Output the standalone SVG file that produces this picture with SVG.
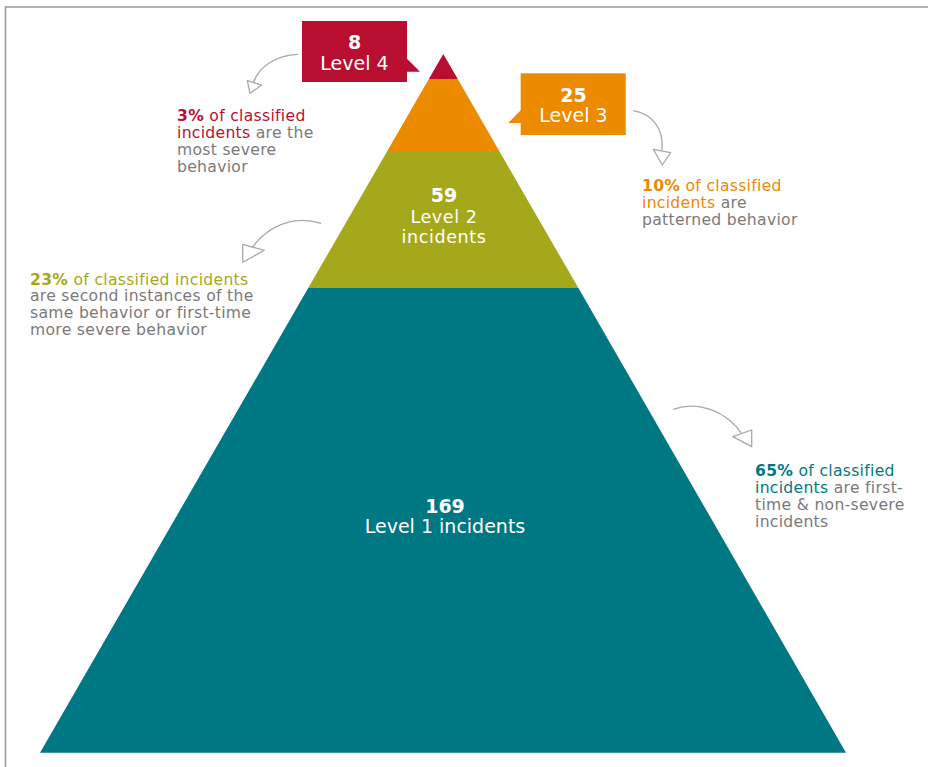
<svg xmlns="http://www.w3.org/2000/svg" width="928" height="767" viewBox="0 0 928 767">
<defs>
<style>
text{font-family:"DejaVu Sans","Liberation Sans",sans-serif;}
.lab{fill:#ffffff;font-size:19px;text-anchor:middle;}
.l2{font-size:17.5px;letter-spacing:0.6px;}
.b{font-weight:bold;}
.side{font-size:15.6px;letter-spacing:0.3px;fill:#7a7a7a;}
.red{fill:#b80f31;}
.org{fill:#ec8a00;}
.olv{fill:#a6a81b;}
.tel{fill:#007883;}
.arr{fill:none;stroke:#a9a9a9;stroke-width:1.3;}
.head{fill:#ffffff;stroke:#a9a9a9;stroke-width:1.3;stroke-linejoin:round;}
</style>
</defs>
<rect width="928" height="767" fill="#ffffff"/>
<path d="M5.5,767 V7 H928" fill="none" stroke="#9a9a9a" stroke-width="1.6"/>

<g id="level1">
<polygon points="308.2,288 578.4,288 846,752.7 40,752.7" fill="#007883"/>
<text class="lab b" x="445" y="513">169</text>
<text class="lab" x="445" y="533">Level 1 incidents</text>
</g>
<g id="level2">
<polygon points="387.3,151 499.2,151 578.4,288 308.2,288" fill="#a6a81b"/>
<text class="lab b" x="444" y="202">59</text>
<text class="lab l2" x="444" y="222.5">Level 2</text>
<text class="lab l2" x="444" y="243">incidents</text>
</g>
<g id="level3">
<polygon points="428.7,79.3 457.9,79.3 499.2,151 387.3,151" fill="#ec8a00"/>
</g>
<g id="level4">
<polygon points="443.3,54 457.9,79.3 428.7,79.3" fill="#b80f31"/>
</g>

<g id="callout4">
<rect x="302" y="21" width="105" height="61" fill="#b80f31"/>
<polygon points="406,57.7 420,71.7 406,71.7" fill="#b80f31"/>
<text class="lab b" x="354.5" y="49">8</text>
<text class="lab" x="354.5" y="70">Level 4</text>
</g>
<g id="callout3">
<rect x="520.7" y="73.3" width="105" height="61.7" fill="#ec8a00"/>
<polygon points="521.7,109.3 508.3,123 521.7,123" fill="#ec8a00"/>
<text class="lab b" x="573.5" y="101.7">25</text>
<text class="lab" x="573.5" y="121.7">Level 3</text>
</g>

<g id="connectors">
<path class="arr" d="M297.7,54.3 C276,55 258,67 253,84"/>
<polygon class="head" points="247.3,80.7 261.7,85 250,93.3"/>
<path class="arr" d="M633.3,110.7 C652,114 664,128 662,150"/>
<polygon class="head" points="653.3,149.3 670.7,152.7 662.3,165"/>
<path class="arr" d="M321,223.3 C292,214 266,228 252,248"/>
<polygon class="head" points="242.7,244.3 264.3,250.3 242.7,262.3"/>
<path class="arr" d="M673.3,409.3 C699,400 727,412 742,434"/>
<polygon class="head" points="732.7,436.7 751.7,430 751.7,446.7"/>
</g>

<g id="note4">
<text class="side" x="177" y="121"><tspan class="red b">3%</tspan><tspan class="red"> of classified</tspan></text>
<text class="side" x="177" y="138"><tspan class="red">incidents</tspan> are the</text>
<text class="side" x="177" y="155">most severe</text>
<text class="side" x="177" y="172">behavior</text>
</g>
<g id="note3">
<text class="side" x="642" y="191"><tspan class="org b">10%</tspan><tspan class="org"> of classified</tspan></text>
<text class="side" x="642" y="208"><tspan class="org">incidents</tspan> are</text>
<text class="side" x="642" y="225">patterned behavior</text>
</g>
<g id="note2">
<text class="side" x="30" y="284.5"><tspan class="olv b">23%</tspan><tspan class="olv"> of classified incidents</tspan></text>
<text class="side" x="30" y="301">are second instances of the</text>
<text class="side" x="30" y="318">same behavior or first-time</text>
<text class="side" x="30" y="334.5">more severe behavior</text>
</g>
<g id="note1">
<text class="side" x="755" y="476"><tspan class="tel b">65%</tspan><tspan class="tel"> of classified</tspan></text>
<text class="side" x="755" y="493"><tspan class="tel">incidents</tspan> are first-</text>
<text class="side" x="755" y="510">time &amp; non-severe</text>
<text class="side" x="755" y="527">incidents</text>
</g>
</svg>
